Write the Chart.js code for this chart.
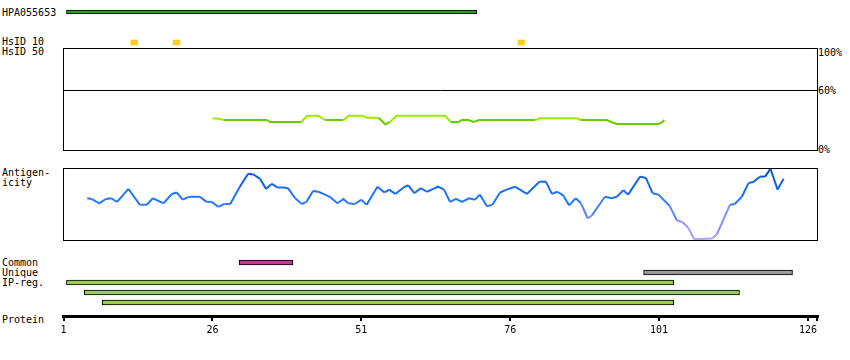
<!DOCTYPE html>
<html>
<head>
<meta charset="utf-8">
<script src="https://cdn.jsdelivr.net/npm/chart.js@4.4.1/dist/chart.umd.min.js"></script>
<style>
  body { margin: 0; background: #fff; width: 850px; height: 360px; position: relative; overflow: hidden;
         font-family: "DejaVu Sans Mono", monospace; font-size: 10px; color: #000; }
  canvas, .lbl, .frame { position: absolute; }
  .lbl { line-height: 10px; white-space: pre; }
  .frame { border: 1px solid #000; box-sizing: border-box; pointer-events: none; }
</style>
</head>
<body>
<div class="lbl" style="left:2px;top:8px">HPA055653</div>
<div class="lbl" style="left:2px;top:37px">HsID 10</div>
<div class="lbl" style="left:2px;top:47px">HsID 50</div>
<div class="lbl" style="left:2px;top:168px">Antigen-</div>
<div class="lbl" style="left:2px;top:178px">icity</div>
<div class="lbl" style="left:2px;top:258px">Common</div>
<div class="lbl" style="left:2px;top:268px">Unique</div>
<div class="lbl" style="left:2px;top:278px">IP-reg.</div>
<div class="lbl" style="left:2px;top:315px">Protein</div>
<div class="lbl" style="left:818px;top:48px">100%</div>
<div class="lbl" style="left:818px;top:86px">60%</div>
<div class="lbl" style="left:818px;top:145px">0%</div>

<canvas id="hpa" width="755" height="8" style="left:63px;top:8px"></canvas>
<canvas id="hsid10" width="755" height="9" style="left:63px;top:38px"></canvas>
<canvas id="hsid50" width="755" height="102" style="left:63px;top:48px"></canvas>
<div class="frame" style="left:63px;top:48px;width:755px;height:103px"></div>
<canvas id="antigen" width="755" height="72" style="left:63px;top:168px"></canvas>
<div class="frame" style="left:63px;top:168px;width:755px;height:73px"></div>
<canvas id="common" width="755" height="9" style="left:63px;top:258px"></canvas>
<canvas id="unique" width="755" height="9" style="left:63px;top:268px"></canvas>
<canvas id="ip1" width="755" height="9" style="left:63px;top:278px"></canvas>
<canvas id="ip2" width="755" height="9" style="left:63px;top:288px"></canvas>
<canvas id="ip3" width="755" height="9" style="left:63px;top:298px"></canvas>
<canvas id="protein" width="800" height="50" style="left:40px;top:289px"></canvas>

<script>
// residue ranges of the tracks
const hpaRange = [[1.5, 70.4]];
const hsid10Ranges = [[12.3, 13.45], [19.4, 20.55], [77.3, 78.4]];
const commonRanges = [[30.5, 39.5]];
const uniqueRanges = [[98.4, 123.4]];
const ipRegRanges = [[1.5, 103.45], [4.5, 114.5], [7.5, 103.45]];

// HsID 50 similarity (%)
const hsid50Pos = [26, 27.3, 27.9, 35.1, 35.7, 40.9, 41.9, 43.8, 44.9, 48, 48.9, 51.2, 51.9, 53.9,
  55, 55.8, 56.9, 65.1, 66, 67.3, 67.9, 69, 69.8, 70.8, 80.2, 81, 87.2, 87.8, 92.2, 93.3, 93.9,
  100.9, 101.4, 101.9];
const hsid50Val = [31.7, 31, 30, 30, 28, 28, 34.3, 34.3, 30, 30, 34.3, 34.3, 32.3, 32.3,
  25.7, 28, 34.3, 34.3, 28, 28, 30, 30, 28, 30, 30, 31.7, 31.7, 30, 30, 27.3, 26,
  26, 27.3, 30];

// antigenicity profile (relative units 0-100)
const antigenPos = [5, 5.7, 7, 8.1, 9, 10, 11.9, 13.8, 15, 16, 17.8, 19.2, 20, 21, 22, 23.9, 25,
  25.9, 27, 28, 29, 30.6, 32, 32.9, 34, 35, 36, 36.9, 38, 38.7, 39.9, 41, 41.8, 42.9, 43.8, 44.9,
  45.7, 47, 48, 48.8, 49.9, 51, 51.9, 53.7, 54.9, 55.7, 56.7, 58.1, 58.9, 59.9, 61, 62, 63.1, 63.9,
  64.9, 65.9, 66.9, 67.9, 69.1, 70.1, 70.9, 72.1, 73, 74.3, 75.4, 76.8, 78.8, 80.9, 82, 83, 83.9,
  84.9, 85.9, 87, 87.9, 89, 89.7, 91.9, 93, 93.9, 95, 95.8, 97.8, 98.8, 99.9, 100.9, 102.8, 104,
  104.9, 105.9, 106.9, 109.9, 110.7, 112.9, 113.7, 114.9, 116, 116.9, 117.9, 118.8, 119.7, 120.9,
  121.9];
const antigenVal = [58, 57, 51, 57, 58, 53, 71, 49, 49, 58, 51, 64, 66, 56, 60, 60, 53,
  53, 46, 50, 50, 74, 92, 91, 85, 71, 78, 73, 73, 72, 58, 50, 53, 68, 67, 63,
  60, 51, 57, 51, 50, 56, 49, 74, 66, 70, 64, 73, 76, 65, 72, 67, 71, 74,
  70, 53, 57, 53, 58, 56, 63, 47, 49, 66, 70, 74, 64, 81, 81, 64, 67,
  62, 48, 58, 51, 30, 34, 60, 58, 60, 69, 63, 88, 86, 65, 63, 47, 27,
  25, 17, 1, 2, 8, 49, 50, 60, 79, 81, 88, 88, 99, 70,
  85];

const proteinTicks = [1, 26, 51, 76, 101, 126];
const proteinEnd = 127.5;

const XMIN = 0.916;
const XMAX = 127.68;

Chart.defaults.font.family = "'DejaVu Sans Mono', monospace";
Chart.defaults.font.size = 10;
Chart.defaults.color = "#000";

const baseOptions = () => ({
  responsive: false,
  animation: false,
  events: [],
  layout: { padding: 0 },
  plugins: { legend: { display: false }, tooltip: { enabled: false } },
});

function trackChart(id, ranges, color, thickness, border) {
  new Chart(document.getElementById(id), {
    type: "bar",
    data: {
      labels: [""],
      datasets: ranges.map((r) => ({
        data: [r],
        backgroundColor: color,
        borderColor: "#000",
        borderWidth: border,
        borderSkipped: false,
        barThickness: thickness,
        grouped: false,
      })),
    },
    options: {
      ...baseOptions(),
      indexAxis: "y",
      scales: {
        x: { type: "linear", min: XMIN, max: XMAX, display: false },
        y: { display: false },
      },
    },
  });
}

trackChart("hpa", hpaRange, "#22a022", 4, 1);
trackChart("hsid10", hsid10Ranges, "#ffcc22", 5, 0);
trackChart("common", commonRanges, "#cc3399", 5, 1);
trackChart("unique", uniqueRanges, "#999999", 5, 1);
trackChart("ip1", [ipRegRanges[0]], "#99cc55", 5, 1);
trackChart("ip2", [ipRegRanges[1]], "#99cc55", 5, 1);
trackChart("ip3", [ipRegRanges[2]], "#99cc55", 5, 1);

// HsID 50 line, light green where similarity is higher
new Chart(document.getElementById("hsid50"), {
  type: "line",
  data: {
    datasets: [{
      data: hsid50Pos.map((x, i) => ({ x: x, y: hsid50Val[i] })),
      borderWidth: 2,
      pointRadius: 0,
      tension: 0,
      segment: {
        borderColor: (ctx) => ((ctx.p0.parsed.y + ctx.p1.parsed.y) / 2 > 30.4 ? "#99ee00" : "#66cc00"),
      },
    }],
  },
  options: {
    ...baseOptions(),
    scales: {
      x: { type: "linear", min: XMIN, max: XMAX, display: false },
      y: {
        min: 0,
        max: 102,
        ticks: { display: false },
        grid: { drawTicks: false, color: "#000", lineWidth: 1 },
        border: { display: false },
        afterBuildTicks: (s) => { s.ticks = [{ value: 60 }]; },
      },
    },
  },
});

// antigenicity colour: lavender when low, dark blue when high
const stops = [[0, [175, 165, 255]], [25, [150, 150, 255]], [40, [85, 130, 255]],
  [55, [35, 120, 255]], [75, [20, 105, 240]], [100, [0, 75, 190]]];
function antigenColor(v) {
  for (let i = 1; i < stops.length; i++) {
    if (v <= stops[i][0]) {
      const [v0, c0] = stops[i - 1];
      const [v1, c1] = stops[i];
      const t = (v - v0) / (v1 - v0);
      const c = c0.map((a, k) => Math.round(a + (c1[k] - a) * t));
      return `rgb(${c[0]},${c[1]},${c[2]})`;
    }
  }
  return "rgb(0,75,190)";
}

new Chart(document.getElementById("antigen"), {
  type: "line",
  data: {
    datasets: [{
      data: antigenPos.map((x, i) => ({ x: x, y: antigenVal[i] })),
      borderWidth: 2,
      pointRadius: 0,
      tension: 0,
      segment: {
        borderColor: (ctx) => antigenColor((ctx.p0.parsed.y + ctx.p1.parsed.y) / 2),
      },
    }],
  },
  options: {
    ...baseOptions(),
    scales: {
      x: { type: "linear", min: XMIN, max: XMAX, display: false },
      y: { min: 0, max: 100, display: false },
    },
  },
});

// protein position axis
new Chart(document.getElementById("protein"), {
  type: "line",
  data: { datasets: [] },
  options: {
    ...baseOptions(),
    layout: { padding: { left: 23, right: 22 } },
    scales: {
      x: {
        type: "linear",
        position: "bottom",
        min: XMIN,
        max: XMAX,
        grid: { drawOnChartArea: false, drawTicks: true, tickLength: 5, lineWidth: 2, color: "#000" },
        border: { display: true, width: 3, color: "#000" },
        ticks: {
          padding: 3,
          autoSkip: false,
          maxRotation: 0,
          color: "#000",
          callback: (v) => (proteinTicks.includes(v) ? String(v) : ""),
        },
        afterBuildTicks: (s) => {
          s.ticks = [...proteinTicks, proteinEnd].map((v) => ({ value: v }));
        },
      },
      y: { display: false },
    },
  },
});
</script>
</body>
</html>
